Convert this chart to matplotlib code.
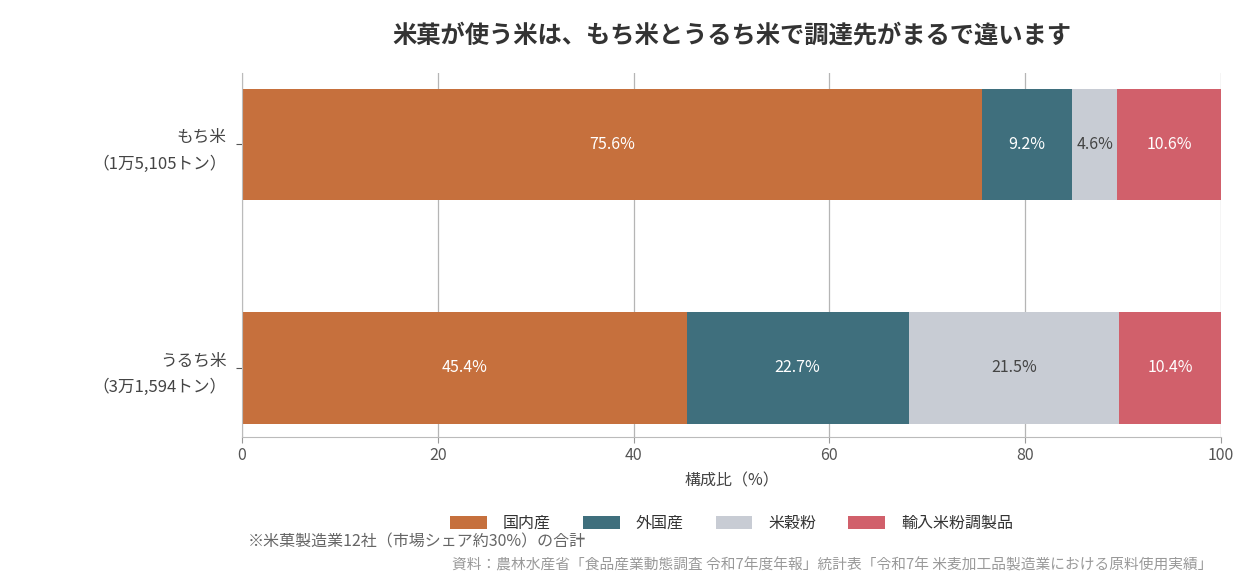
import numpy as np
import matplotlib
matplotlib.use('Agg')
import matplotlib.pyplot as plt
from matplotlib.patches import Patch

plt.rcParams['font.family'] = ['Noto Sans CJK JP', 'DejaVu Sans']

# data
categories = ['もち米\n（1万5,105トン）', 'うるち米\n（3万1,594トン）']
series_names = ['国内産', '外国産', '米穀粉', '輸入米粉調製品']
domestic = [75.6, 45.4]
foreign = [9.2, 22.7]
rice_flour = [4.6, 21.5]
imported_prep = [10.6, 10.4]
colors = ['#C6703D', '#3F6F7D', '#C8CCD4', '#D1606B']
text_colors = ['white', 'white', '#444444', 'white']

title = '米菓が使う米は、もち米とうるち米で調達先がまるで違います'
note = '※米菓製造業12社（市場シェア約30%）の合計'
source = '資料：農林水産省「食品産業動態調査 令和7年度年報」統計表「令和7年 米麦加工品製造業における原料使用実績」'

fig = plt.figure(figsize=(12.4, 5.8), dpi=100)
ax = fig.add_axes([0.1952, 0.2466, 0.7895, 0.6276])

y = np.arange(len(categories))
left = np.zeros(len(categories))
for vals, name, col, tcol in zip([domestic, foreign, rice_flour, imported_prep],
                                 series_names, colors, text_colors):
    bars = ax.barh(y, vals, left=left, height=0.5, color=col, label=name, zorder=2)
    for b, v in zip(bars, vals):
        ax.text(b.get_x() + b.get_width() / 2, b.get_y() + b.get_height() / 2,
                '{:.1f}%'.format(v), ha='center', va='center', color=tcol, fontsize=11.5)
    left += np.array(vals)

ax.set_xlim(0, 100)
ax.set_ylim(1.31, -0.32)
ax.set_xticks([0, 20, 40, 60, 80, 100])
ax.set_yticks(y)
ax.set_yticklabels(categories, fontsize=12, color='#444444', linespacing=1.7)
ax.tick_params(axis='x', labelsize=11.5, colors='#555555', length=4, color='#999999')
ax.tick_params(axis='y', length=4, color='#555555', pad=7)
for lbl in ax.get_yticklabels():
    lbl.set_horizontalalignment('right')
ax.grid(axis='x', color='#B5B5B5', linewidth=0.9, zorder=0)
ax.set_axisbelow(True)
for s in ['top', 'right']:
    ax.spines[s].set_visible(False)
ax.spines['left'].set_color('#BBBBBB')
ax.spines['bottom'].set_color('#BBBBBB')
ax.set_xlabel('構成比（%）', fontsize=11.5, color='#444444', labelpad=6)

fig.text(0.590, 0.938, title, ha='center', va='center', fontsize=17.5,
         fontweight='bold', color='#333333')

handles = [Patch(facecolor=c, label=n) for c, n in zip(colors, series_names)]
fig.legend(handles=handles, loc='center', bbox_to_anchor=(0.59, 0.098), ncol=4,
           frameon=False, fontsize=11.5, handlelength=2.3, handleheight=0.9,
           columnspacing=2.0, handletextpad=1.0, labelcolor='#333333')

fig.text(0.2, 0.066, note, ha='left', va='center', fontsize=11.5, color='#666666')
fig.text(0.978, 0.026, source, ha='right', va='center', fontsize=10.6, color='#999999')

fig.savefig('out.png', dpi=100)
